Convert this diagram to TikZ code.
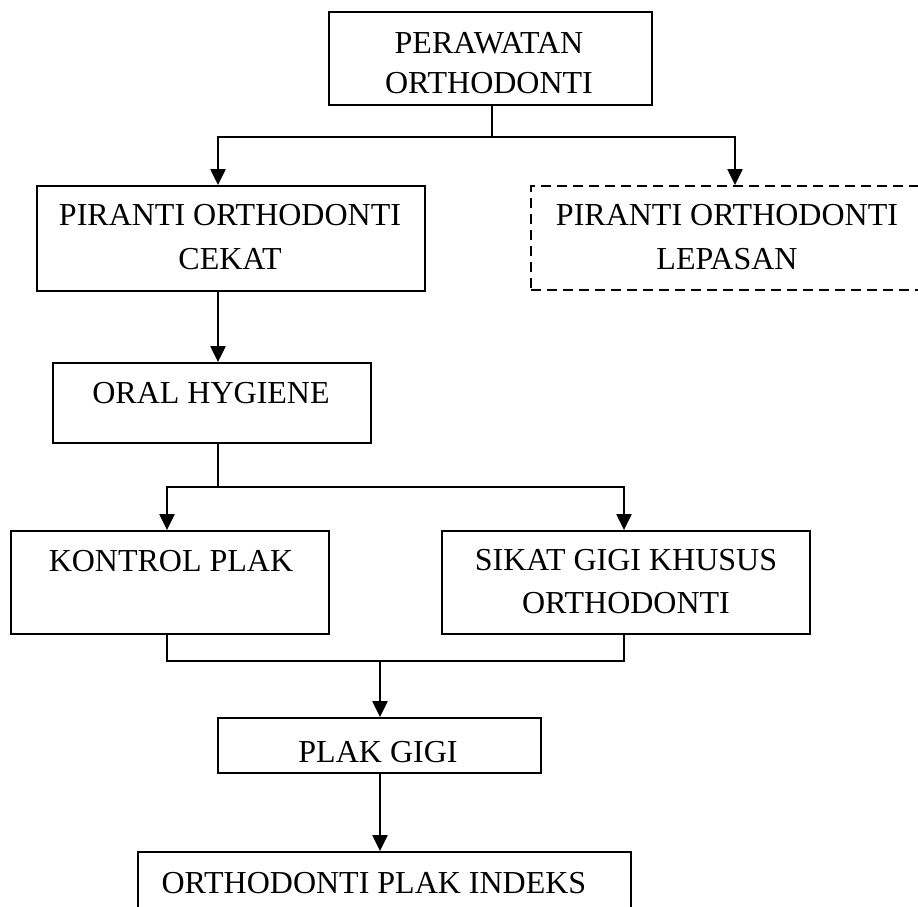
\documentclass[tikz,border=0pt]{standalone}
\usepackage{fontspec}
\setmainfont{Liberation Serif}
\usetikzlibrary{arrows.meta}
\begin{document}
\begin{tikzpicture}[x=1pt,y=-1pt,
  box/.style={draw=black,line width=1.8pt,rectangle,inner sep=0pt},
  dbox/.style={box,dash pattern=on 10pt off 6pt},
  txt/.style={anchor=base,inner sep=0pt,font=\fontsize{32}{40}\selectfont},
  conn/.style={line width=2.2pt},
  arr/.style={conn,-{Triangle[width=15pt,length=16pt]}}]
\clip (0,0) rectangle (918,907);
\fill[white] (0,0) rectangle (918,907);
% boxes
\node[box,minimum width=323pt,minimum height=93pt] (top) at (490.5,58.5) {};
\node[box,minimum width=388pt,minimum height=105pt] (cekat) at (231,238.5) {};
\node[dbox,minimum width=390pt,minimum height=104pt] (lep) at (726,238) {};
\node[box,minimum width=318pt,minimum height=80pt] (oral) at (212,403) {};
\node[box,minimum width=318pt,minimum height=103pt] (kontrol) at (170,582.5) {};
\node[box,minimum width=368pt,minimum height=103pt] (sikat) at (626,582.5) {};
\node[box,minimum width=323pt,minimum height=55pt] (plak) at (379.5,745.5) {};
\node[box,minimum width=493pt,minimum height=110pt] (final) at (384.5,907) {};
% texts
\node[txt] (t1a) at (489,53) {PERAWATAN};
\node[txt] (t1b) at (489,93) {ORTHODONTI};
\node[txt] (t2a) at (230,225) {PIRANTI ORTHODONTI};
\node[txt] (t2b) at (230,269) {CEKAT};
\node[txt] (t3a) at (727,225) {PIRANTI ORTHODONTI};
\node[txt] (t3b) at (727,269) {LEPASAN};
\node[txt] (t4) at (211,403) {ORAL HYGIENE};
\node[txt] (t5) at (171,571) {KONTROL PLAK};
\node[txt] (t6a) at (626,570) {SIKAT GIGI KHUSUS};
\node[txt] (t6b) at (626,613) {ORTHODONTI};
\node[txt] (t7) at (378,762) {PLAK GIGI};
\node[txt] (t8) at (374,893) {ORTHODONTI PLAK INDEKS};
% connector coordinates
\coordinate (j1) at (492,137);
\coordinate (aL) at (218,137);
\coordinate (aR) at (735,137);
\coordinate (j2) at (218,487);
\coordinate (kL) at (167,487);
\coordinate (sR) at (624,487);
\coordinate (j3) at (380,661);
% connectors
\draw[conn] (j1 |- top.south) -- (j1);
\draw[arr] (j1) -| (aL |- cekat.north);
\draw[arr] (j1) -| (aR |- lep.north);
\draw[arr] (aL |- cekat.south) -- (aL |- oral.north);
\draw[conn] (j2 |- oral.south) -- (j2);
\draw[arr] (j2) -| (kL |- kontrol.north);
\draw[arr] (j2) -| (sR |- sikat.north);
\draw[conn] (kL |- kontrol.south) -- (kL |- j3) -- (sR |- j3) -- (sR |- sikat.south);
\draw[arr] (j3) -- (j3 |- plak.north);
\draw[arr] (j3 |- plak.south) -- (j3 |- final.north);
\end{tikzpicture}
\end{document}
